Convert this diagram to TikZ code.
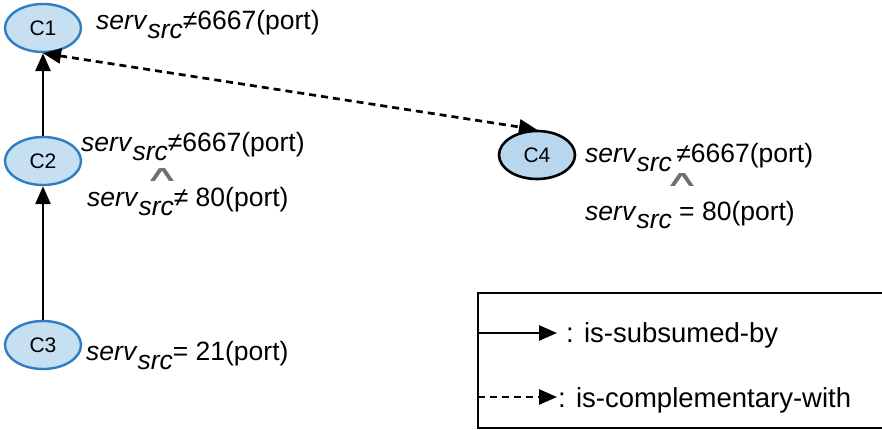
\documentclass[tikz,border=0pt]{standalone}
\usepackage{fontspec}
\setmainfont{Liberation Sans}
\newfontfamily\symfont{DejaVu Sans}
\usetikzlibrary{arrows.meta,shapes.geometric}
\definecolor{cfill}{HTML}{C6E0F2}
\definecolor{cedge}{HTML}{2E7EC1}
\definecolor{cfour}{HTML}{B8D6EE}
\definecolor{andgray}{HTML}{707070}

% attribute name with its subscript
\newcommand{\srv}{\textit{serv}\raisebox{-9pt}{\textit{src}}}
% logical and, drawn wide and low
\newcommand{\wedgesym}{\scalebox{1.8}[0.8]{∧}}

\begin{document}
\begin{tikzpicture}[x=1pt,y=-1pt,
  cls/.style={ellipse, draw=cedge, fill=cfill, line width=2.4pt,
    minimum width=76pt, minimum height=48pt, inner sep=0pt,
    font=\fontsize{21}{21}\selectfont},
  clsdark/.style={cls, draw=black, fill=cfour, line width=2.6pt},
  lbl/.style={anchor=base west, inner sep=0pt, font=\fontsize{26.5}{26.5}\selectfont},
  andsym/.style={anchor=base, inner sep=0pt, text height=12pt, text depth=0pt,
    text=andgray, font=\symfont\fontsize{28}{28}\selectfont},
  legtxt/.style={anchor=base west, inner sep=0pt, font=\fontsize{27.5}{27.5}\selectfont},
  subsumed/.style={line width=2.7pt, -{Triangle[length=18pt,width=15pt]}},
  compl/.style={line width=2.7pt, dash pattern=on 7pt off 5pt,
    {Triangle[length=18pt,width=15pt]}-{Triangle[length=18pt,width=15pt]}},
  complone/.style={line width=2.7pt, dash pattern=on 7pt off 5pt,
    -{Triangle[length=18pt,width=15pt]}}
]
\clip (0,0) rectangle (882,430);

% classes
\node[cls] (c1) at (43,28) {C1};
\node[cls] (c2) at (43,161) {C2};
\node[cls] (c3) at (43,345) {C3};
\node[clsdark] (c4) at (537,155) {C4};

% relations
\draw[subsumed] (c2.north) -- (c1.south);
\draw[subsumed] (c3.north) -- (c2.south);
\draw[compl] (c1.south) -- (c4.north);

% constraints
\node[lbl] (l1) at (96,30) {\srv≠6667(port)};
\node[lbl] (l2a) at (81,152) {\srv≠6667(port)};
\node[andsym] (a2) at (162,182) {\wedgesym};
\node[lbl] (l2b) at (87,207) {\srv≠ 80(port)};
\node[lbl] (l3) at (86,360) {\srv= 21(port)};
\node[lbl] (l4a) at (585,163) {\srv\,≠6667(port)};
\node[andsym] (a4) at (682,187) {\wedgesym};
\node[lbl] (l4b) at (585,220) {\srv\ = 80(port)};

% legend
\draw[line width=2.7pt] (890,293) -- (478,293) -- (478,428) -- (890,428);
\coordinate (s0) at (478,333);
\coordinate (s1) at (557,333);
\coordinate (d0) at (478,397);
\coordinate (d1) at (557,397);
\draw[subsumed] (s0) -- (s1);
\draw[complone] (d0) -- (d1);
\node[legtxt] (t1) at (566,342) {: is-subsumed-by};
\node[legtxt] (t2) at (558,407) {: is-complementary-with};
\end{tikzpicture}
\end{document}
